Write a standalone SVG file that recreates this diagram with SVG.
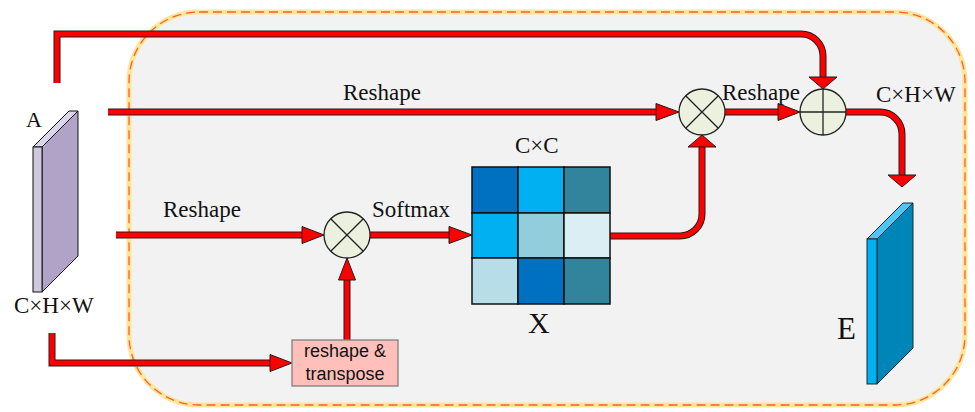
<svg xmlns="http://www.w3.org/2000/svg" width="975" height="412" viewBox="0 0 975 412">
<style>
.lbl{font-family:"Liberation Serif","Times New Roman",serif;font-size:23px;fill:#111}
.sans{font-family:"Liberation Sans",Arial,sans-serif;font-size:18px;fill:#111}
.edge-o{fill:none;stroke:#2a1a1a;stroke-width:7}
.edge{fill:none;stroke:#ff0000;stroke-width:5}
.head{fill:#ff0000;stroke:#2a1a1a;stroke-width:1}
.op{fill:#ebf1de;stroke:#222;stroke-width:1.3}
.opl{stroke:#222;stroke-width:1.3}
.cell{stroke:#111;stroke-width:1.5}
</style>
<rect width="975" height="412" fill="#ffffff"/>
<g id="container">
<rect x="129" y="12" width="836" height="393" rx="70" ry="70" fill="#f2f2f2" stroke="#ffe699" stroke-width="5"/>
<rect x="129" y="12" width="836" height="393" rx="70" ry="70" fill="none" stroke="#ff5f33" stroke-width="1.3" stroke-dasharray="9 5"/>
</g>
<g id="connectors">
<path class="edge-o" d="M57,83 V34 H801 A22,22 0 0 1 823,56 V78"/>
<path class="edge" d="M57,83 V34 H801 A22,22 0 0 1 823,56 V78"/>
<polygon class="head" points="809,77 837,77 823,89"/>
<path class="edge-o" d="M108,112 H657"/>
<path class="edge" d="M108,112 H657"/>
<polygon class="head" points="656,103.5 679,112 656,120.5"/>
<path class="edge-o" d="M116,235 H303"/>
<path class="edge" d="M116,235 H303"/>
<polygon class="head" points="302,226.5 324,235 302,243.5"/>
<path class="edge-o" d="M370,235 H450"/>
<path class="edge" d="M370,235 H450"/>
<polygon class="head" points="449,226.5 472,235 449,243.5"/>
<path class="edge-o" d="M610,236 H680 A22,22 0 0 0 702,214 V146"/>
<path class="edge" d="M610,236 H680 A22,22 0 0 0 702,214 V146"/>
<polygon class="head" points="688,147 716,147 702,135"/>
<path class="edge-o" d="M347,340 V279"/>
<path class="edge" d="M347,340 V279"/>
<polygon class="head" points="338.5,280 355.5,280 347,258"/>
<path class="edge-o" d="M52,333 V363 H271"/>
<path class="edge" d="M52,333 V363 H271"/>
<polygon class="head" points="270,354.5 292,363 270,371.5"/>
<path class="edge-o" d="M725,112 H779"/>
<path class="edge" d="M725,112 H779"/>
<polygon class="head" points="778,103.5 800,112 778,120.5"/>
<path class="edge-o" d="M846,112 H880 A22,22 0 0 1 902,134 V176"/>
<path class="edge" d="M846,112 H880 A22,22 0 0 1 902,134 V176"/>
<polygon class="head" points="888,175 916,175 902,187"/>
</g>
<g id="A">
<polygon points="33,147 69,111 78,111 42,147" fill="#dcd6ea" stroke="#111" stroke-width="1"/>
<polygon points="42,147 78,111 78,256 42,292" fill="#b1a3c8" stroke="#111" stroke-width="1"/>
<rect x="33" y="147" width="9" height="145" fill="#cfc8e0" stroke="#111" stroke-width="1"/>
<text class="lbl" x="26" y="127" style="font-size:22px">A</text>
<text class="lbl" x="14" y="313">C×H×W</text>
</g>
<g id="mul1">
<circle class="op" cx="347" cy="235" r="23"/>
<line class="opl" x1="330.7" y1="218.7" x2="363.3" y2="251.3"/>
<line class="opl" x1="363.3" y1="218.7" x2="330.7" y2="251.3"/>
</g>
<g id="mul2">
<circle class="op" cx="702" cy="112" r="23"/>
<line class="opl" x1="685.7" y1="95.7" x2="718.3" y2="128.3"/>
<line class="opl" x1="718.3" y1="95.7" x2="685.7" y2="128.3"/>
</g>
<g id="add">
<circle class="op" cx="823" cy="112" r="23"/>
<line class="opl" x1="823" y1="89" x2="823" y2="135"/>
<line class="opl" x1="800" y1="112" x2="846" y2="112"/>
</g>
<g id="X">
<rect class="cell" x="472" y="167" width="46" height="46" fill="#0070c0"/>
<rect class="cell" x="518" y="167" width="46" height="46" fill="#00b0f0"/>
<rect class="cell" x="564" y="167" width="46" height="46" fill="#31849b"/>
<rect class="cell" x="472" y="213" width="46" height="45" fill="#00b0f0"/>
<rect class="cell" x="518" y="213" width="46" height="45" fill="#92cddc"/>
<rect class="cell" x="564" y="213" width="46" height="45" fill="#daeef3"/>
<rect class="cell" x="472" y="258" width="46" height="46" fill="#b7dde8"/>
<rect class="cell" x="518" y="258" width="46" height="46" fill="#0070c0"/>
<rect class="cell" x="564" y="258" width="46" height="46" fill="#31849b"/>
<text class="lbl" x="515" y="153">C×C</text>
<text class="lbl" x="528" y="333" style="font-size:30px">X</text>
</g>
<g id="transpose">
<rect x="292" y="340" width="106" height="46" fill="#ffc0bb" stroke="#808080" stroke-width="1.3"/>
<text class="sans" x="345" y="357" text-anchor="middle">reshape &amp;</text>
<text class="sans" x="345" y="380" text-anchor="middle">transpose</text>
</g>
<g id="E">
<polygon points="867,239 903,203 913,203 877,239" fill="#4cc6f2" stroke="#1a2a33" stroke-width="1"/>
<polygon points="877,239 913,203 913,348 877,384" fill="#0085b8" stroke="#1a2a33" stroke-width="1"/>
<rect x="867" y="239" width="10" height="145" fill="#00b0f0" stroke="#1a2a33" stroke-width="1"/>
<text class="lbl" x="837" y="339" style="font-size:31px">E</text>
<text class="lbl" x="876" y="102">C×H×W</text>
</g>
<g id="labels">
<text class="lbl" x="343" y="100">Reshape</text>
<text class="lbl" x="163" y="217">Reshape</text>
<text class="lbl" x="372" y="217">Softmax</text>
<text class="lbl" x="722" y="100">Reshape</text>
</g>
</svg>
